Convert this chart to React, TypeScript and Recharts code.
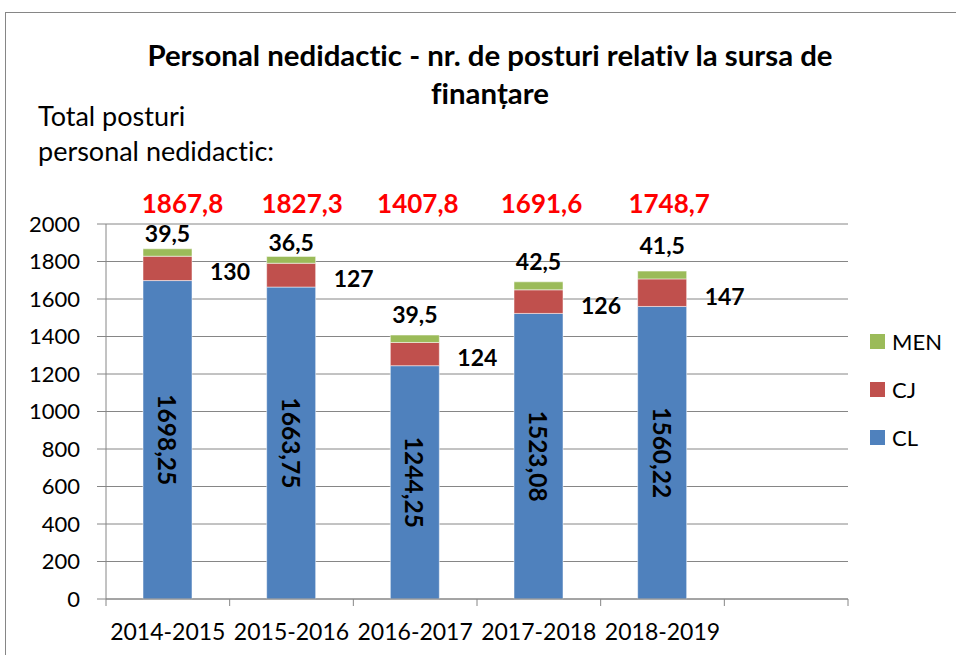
import { BarChart, Bar, XAxis, YAxis, CartesianGrid, LabelList } from "recharts"

// data
const years = ["2014-2015", "2015-2016", "2016-2017", "2017-2018", "2018-2019", ""]
const clPosts = [1698.25, 1663.75, 1244.25, 1523.08, 1560.22]
const cjPosts = [130, 127, 124, 126, 147]
const menPosts = [39.5, 36.5, 39.5, 42.5, 41.5]
const totalPosts = [1867.8, 1827.3, 1407.8, 1691.6, 1748.7]
const yTicks = [0, 200, 400, 600, 800, 1000, 1200, 1400, 1600, 1800, 2000]

// hand-placed label nudges (the original labels were dragged around a bit)
const menLabelLift = [16, 14, 21, 21, 26]
const totalLabelShift = [15, 11, 3, 3, 7]

const data = years.map((year, i) => ({
  year,
  CL: clPosts[i],
  CJ: cjPosts[i],
  MEN: menPosts[i],
  total: totalPosts[i],
}))

const FONT = "Lato, 'Noto Sans', sans-serif"
const GRAY = "#868686"
const PLOT_LEFT = 106
const PLOT_RIGHT = 848
const PLOT_TOP = 224
const PLOT_BOTTOM = 599
const BAND = (PLOT_RIGHT - PLOT_LEFT) / years.length

const series = [
  { key: "MEN", color: "#9BBB59" },
  { key: "CJ", color: "#C0504D" },
  { key: "CL", color: "#4F81BD" },
]

const fmt = (v: number) => String(v).replace(".", ",")

function YearTick(props: any) {
  const { x, y, payload, index } = props
  return (
    <g>
      <line x1={x - BAND / 2} x2={x - BAND / 2} y1={y} y2={y + 7} stroke={GRAY} />
      {index === years.length - 1 && (
        <line x1={x + BAND / 2} x2={x + BAND / 2} y1={y} y2={y + 7} stroke={GRAY} />
      )}
      <text x={x} y={y + 41} textAnchor="middle" fontSize={23} fontFamily={FONT} fill="#000">
        {payload.value}
      </text>
    </g>
  )
}

function ClLabel(props: any) {
  const { x, y, width, height, value } = props
  if (value == null) return null
  const cx = x + width / 2
  const cy = y + height / 2
  return (
    <text
      x={cx}
      y={cy}
      transform={`rotate(90 ${cx} ${cy})`}
      textAnchor="middle"
      dominantBaseline="central"
      fontSize={24.5}
      fontWeight={700}
      fontFamily={FONT}
      fill="#000"
    >
      {fmt(value)}
    </text>
  )
}

function CjLabel(props: any) {
  const { x, y, width, height, value } = props
  if (value == null) return null
  return (
    <text
      x={x + width + 38}
      y={y + height / 2 + 3}
      textAnchor="middle"
      dominantBaseline="central"
      fontSize={23}
      fontWeight={700}
      fontFamily={FONT}
      fill="#000"
    >
      {fmt(value)}
    </text>
  )
}

function MenLabel(props: any) {
  const { x, y, width, value, index } = props
  if (value == null) return null
  return (
    <text
      x={x + width / 2}
      y={y - (menLabelLift[index] ?? 18)}
      textAnchor="middle"
      dominantBaseline="central"
      fontSize={23}
      fontWeight={700}
      fontFamily={FONT}
      fill="#000"
    >
      {fmt(value)}
    </text>
  )
}

function TotalLabel(props: any) {
  const { x, width, value, index } = props
  if (value == null) return null
  return (
    <text
      x={x + width / 2 + (totalLabelShift[index] ?? 0)}
      y={PLOT_TOP - 21}
      textAnchor="middle"
      dominantBaseline="central"
      fontSize={26}
      fontWeight={700}
      fontFamily={FONT}
      fill="#FF0000"
    >
      {fmt(value)}
    </text>
  )
}

export default function App() {
  return (
    <div
      style={{
        position: "absolute",
        left: 0,
        top: 0,
        width: 956,
        height: 655,
        overflow: "hidden",
        background: "#fff",
        fontFamily: FONT,
        fontVariantLigatures: "none",
      }}
    >
      {/* chart frame */}
      <div
        style={{
          position: "absolute",
          left: 5,
          top: 12,
          width: 960,
          height: 660,
          borderLeft: `1px solid ${GRAY}`,
          borderTop: `1px solid ${GRAY}`,
        }}
      />
      <div
        style={{
          position: "absolute",
          left: 40,
          width: 900,
          top: 36,
          textAlign: "center",
          fontSize: 29.4,
          fontWeight: 700,
          lineHeight: "38px",
          color: "#000",
        }}
      >
        Personal nedidactic - nr. de posturi relativ la sursa de
        <br />
        finanțare
      </div>
      <div
        style={{
          position: "absolute",
          left: 38,
          top: 98,
          fontSize: 27,
          lineHeight: "35px",
          color: "#000",
        }}
      >
        Total posturi
        <br />
        personal nedidactic:
      </div>

      <div style={{ position: "absolute", left: 0, top: 0 }}>
        <BarChart
          width={956}
          height={655}
          data={data}
          barSize={49}
          margin={{ top: PLOT_TOP, right: 956 - PLOT_RIGHT, bottom: 0, left: 0 }}
        >
          <CartesianGrid vertical={false} stroke={GRAY} />
          <XAxis
            dataKey="year"
            interval={0}
            tickLine={false}
            tickSize={0}
            tickMargin={0}
            height={655 - PLOT_BOTTOM}
            stroke={GRAY}
            tick={<YearTick />}
          />
          <YAxis
            width={PLOT_LEFT}
            domain={[0, 2000]}
            ticks={yTicks}
            interval={0}
            stroke={GRAY}
            tickSize={9}
            tickMargin={17}
            tick={{ fill: "#000", fontSize: 22, fontFamily: FONT }}
          />
          <Bar dataKey="CL" stackId="a" fill="#4F81BD" stroke="rgba(255,255,255,0.5)" isAnimationActive={false}>
            <LabelList dataKey="CL" content={<ClLabel />} />
          </Bar>
          <Bar dataKey="CJ" stackId="a" fill="#C0504D" stroke="rgba(255,255,255,0.5)" isAnimationActive={false}>
            <LabelList dataKey="CJ" content={<CjLabel />} />
          </Bar>
          <Bar dataKey="MEN" stackId="a" fill="#9BBB59" stroke="rgba(255,255,255,0.5)" isAnimationActive={false}>
            <LabelList dataKey="MEN" content={<MenLabel />} />
            <LabelList dataKey="total" content={<TotalLabel />} />
          </Bar>
        </BarChart>
      </div>

      {/* legend */}
      {series.map((s, i) => (
        <div
          key={s.key}
          style={{
            position: "absolute",
            left: 870,
            top: 334 + i * 48,
            height: 15,
            display: "flex",
            alignItems: "center",
            fontSize: 22,
            color: "#000",
          }}
        >
          <span style={{ width: 15, height: 15, background: s.color, display: "inline-block" }} />
          <span style={{ marginLeft: 7 }}>{s.key}</span>
        </div>
      ))}
    </div>
  )
}
